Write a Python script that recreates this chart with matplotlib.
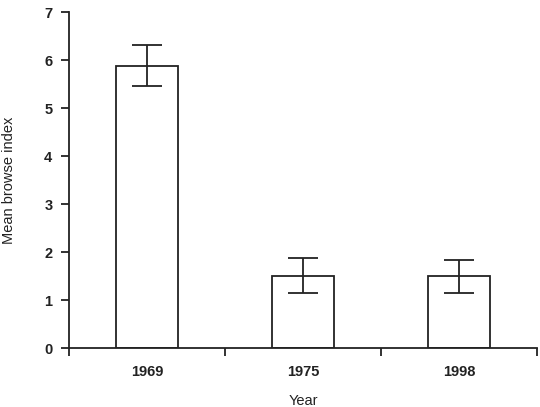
import matplotlib
matplotlib.use('Agg')
import matplotlib.pyplot as plt

years = ['1969', '1975', '1998']
means = [5.88, 1.51, 1.49]
errors = [0.43, 0.37, 0.35]

plt.rcParams['font.family'] = ['Liberation Sans', 'DejaVu Sans']
ink = '#222222'

fig = plt.figure(figsize=(5.4, 4.07), dpi=100)
ax = fig.add_axes([69 / 540, 1 - 348 / 407, 468 / 540, 336 / 407])

pos = [i + 0.5 for i in range(len(years))]
ax.bar(pos, means, width=0.4, color='white', edgecolor=ink, linewidth=1.3, zorder=2)
ax.errorbar(pos, means, yerr=errors, fmt='none', ecolor=ink, elinewidth=1.3,
            capsize=11, capthick=1.3, zorder=3)

ax.set_xlim(0, 3)
ax.set_ylim(0, 7)
ax.set_xticks(range(4))
ax.set_xticklabels([])
ax.set_xticks(pos, minor=True)
ax.set_xticklabels(years, minor=True, fontsize=10.5, fontweight='bold', color=ink)
ax.tick_params(axis='x', which='minor', length=0, pad=12)
ax.tick_params(axis='x', which='major', length=6, width=1.3, color=ink)
ax.set_yticks(range(8))
ax.set_yticklabels([str(i) for i in range(8)], fontsize=10.5, fontweight='bold', color=ink)
ax.tick_params(axis='y', length=6, width=1.3, color=ink, pad=6)

for s in ['top', 'right']:
    ax.spines[s].set_visible(False)
for s in ['left', 'bottom']:
    ax.spines[s].set_linewidth(1.3)
    ax.spines[s].set_color(ink)

ax.set_ylabel('Mean browse index', fontsize=10.5, color=ink, labelpad=20)
ax.set_xlabel('Year', fontsize=10.5, color=ink, labelpad=11)

fig.savefig('out.png', dpi=100)
